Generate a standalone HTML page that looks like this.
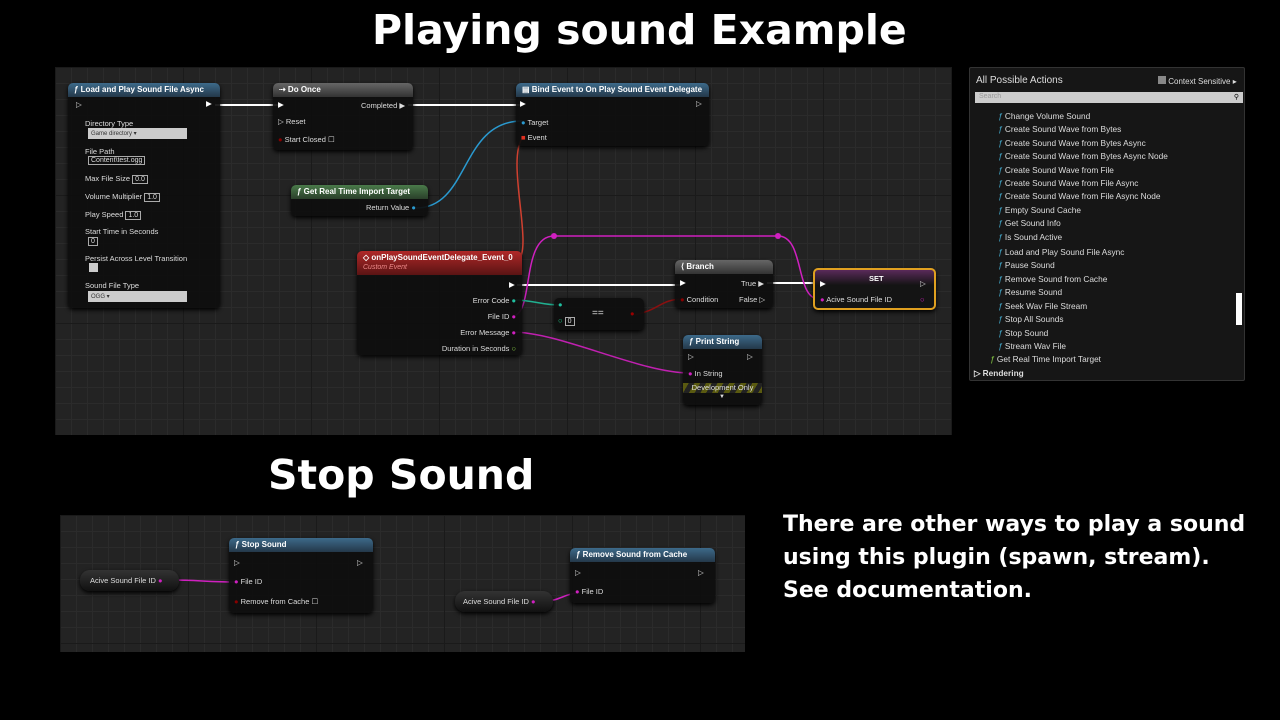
<!DOCTYPE html>
<html><head><meta charset="utf-8"><style>
*{margin:0;padding:0;box-sizing:border-box}
body{width:1280px;height:720px;background:#000;position:relative;overflow:hidden;font-family:"Liberation Sans",sans-serif;color:#ddd}
.t{position:absolute;font-weight:bold;color:#fff;white-space:nowrap;font-family:"DejaVu Sans",sans-serif}
.g{position:absolute;background-color:#232323;background-image:linear-gradient(#1a1a1a 1px,transparent 1px),linear-gradient(90deg,#1a1a1a 1px,transparent 1px),linear-gradient(#2b2b2b 1px,transparent 1px),linear-gradient(90deg,#2b2b2b 1px,transparent 1px);background-size:128px 128px,128px 128px,16px 16px,16px 16px}
.n{position:absolute;background:rgba(14,14,14,.93);border-radius:5px;box-shadow:0 2px 4px #000;font-size:8px;color:#ddd}
.h{height:14px;border-radius:5px 5px 0 0;padding:2px 6px;font-size:8px;font-weight:bold;color:#fff;white-space:nowrap}
.l{position:absolute;font-size:7.5px;white-space:nowrap;color:#ddd}
.s{position:absolute}
.box{display:inline-block;border:1px solid #aaa;padding:0 2px;font-size:7px}
</style></head><body>
<div class="t" style="left:372px;top:6px;font-size:41px">Playing sound Example</div>
<div class="t" style="left:268px;top:451px;font-size:41px">Stop Sound</div>
<div class="t" style="left:783px;top:508px;font-size:22px;line-height:33px">There are other ways to play a sound<br>using this plugin (spawn, stream).<br>See documentation.</div>

<div class="g" style="left:55px;top:67px;width:897px;height:368px"></div>
<div class="g" style="left:60px;top:515px;width:685px;height:137px"></div>

<svg class="s" style="left:0;top:0" width="1280" height="720">
<g fill="none" stroke-width="2">
<path d="M215 105H278" stroke="#fff"/>
<path d="M408 105H521" stroke="#fff"/>
<path d="M517 285H680" stroke="#fff"/>
<path d="M767 283H819" stroke="#fff"/>
<path d="M416 208C470 208 460 121 522 121" stroke="#2a9ad0" stroke-width="1.5"/>
<path d="M517 262C535 250 505 160 523 137" stroke="#d04030" stroke-width="1.5"/>
<path d="M512 316C535 316 520 236 554 236H778C805 236 795 299 819 299" stroke="#d020c0" stroke-width="1.5"/>
<path d="M512 332C560 332 640 373 690 373" stroke="#c020b0" stroke-width="1.5"/>
<path d="M512 300C535 300 540 305 561 305" stroke="#20b090" stroke-width="1.5"/>
<path d="M634 315C660 310 660 299 684 299" stroke="#8a1010" stroke-width="1.5"/>
<path d="M170 580C200 580 205 582 238 582" stroke="#d020c0" stroke-width="1.5"/>
<path d="M545 601C560 601 565 593 580 593" stroke="#d020c0" stroke-width="1.5"/>
</g>
<g fill="#d020c0"><circle cx="554" cy="236" r="3"/><circle cx="778" cy="236" r="3"/></g>
</svg>

<!-- Load and Play -->
<div class="n" style="left:68px;top:83px;width:152px;height:225px">
<div class="h" style="background:linear-gradient(#3d6a8a,#24384a)">ƒ Load and Play Sound File Async</div>
<div class="l" style="left:8px;top:17px">▷</div><div class="l" style="left:138px;top:16px;color:#fff">▶</div>
<div class="l" style="left:17px;top:36px">Directory Type</div>
<div class="l" style="left:20px;top:45px;width:99px;height:11px;background:#ccc;color:#333;font-size:6px;padding:2px 3px">Game directory ▾</div>
<div class="l" style="left:17px;top:64px">File Path</div>
<div class="l" style="left:20px;top:72px"><span class="box">Content\test.ogg</span></div>
<div class="l" style="left:17px;top:91px">Max File Size <span class="box">0.0</span></div>
<div class="l" style="left:17px;top:109px">Volume Multiplier <span class="box">1.0</span></div>
<div class="l" style="left:17px;top:127px">Play Speed <span class="box">1.0</span></div>
<div class="l" style="left:17px;top:144px">Start Time in Seconds</div>
<div class="l" style="left:20px;top:153px"><span class="box">0</span></div>
<div class="l" style="left:17px;top:171px">Persist Across Level Transition</div>
<div class="l" style="left:21px;top:180px;width:9px;height:9px;background:#ccc"></div>
<div class="l" style="left:17px;top:198px">Sound File Type</div>
<div class="l" style="left:20px;top:208px;width:99px;height:11px;background:#ccc;color:#333;font-size:6px;padding:2px 3px">OGG ▾</div>
</div>
<!-- Do Once -->
<div class="n" style="left:273px;top:83px;width:140px;height:67px">
<div class="h" style="background:linear-gradient(#666,#333)">⇢ Do Once</div>
<div class="l" style="left:5px;top:17px;color:#fff">▶</div><div class="l" style="left:88px;top:18px">Completed ▶</div>
<div class="l" style="left:5px;top:34px">▷ Reset</div>
<div class="l" style="left:5px;top:52px"><span style="color:#800">●</span> Start Closed ☐</div>
</div>
<!-- Bind -->
<div class="n" style="left:516px;top:83px;width:193px;height:63px">
<div class="h" style="background:linear-gradient(#3d6a8a,#24384a)">▤ Bind Event to On Play Sound Event Delegate</div>
<div class="l" style="left:4px;top:16px;color:#fff">▶</div><div class="l" style="left:180px;top:16px">▷</div>
<div class="l" style="left:5px;top:35px"><span style="color:#2a9ad0">●</span> Target</div>
<div class="l" style="left:5px;top:50px"><span style="color:#e03020">■</span> Event</div>
</div>
<!-- Get Real Time -->
<div class="n" style="left:291px;top:185px;width:137px;height:31px">
<div class="h" style="background:linear-gradient(#4a7a4a,#2a402a)">ƒ Get Real Time Import Target</div>
<div class="l" style="left:75px;top:18px">Return Value <span style="color:#2a9ad0">●</span></div>
</div>
<!-- Custom Event -->
<div class="n" style="left:357px;top:251px;width:165px;height:104px">
<div style="height:24px;border-radius:5px 5px 0 0;background:linear-gradient(#b02828,#5a1414);padding:2px 6px;font-size:8px;font-weight:bold;color:#fff">◇ onPlaySoundEventDelegate_Event_0<br><span style="font-weight:normal;font-style:italic;color:#e88;font-size:7px">Custom Event</span></div>
<div class="l" style="left:152px;top:29px;color:#fff">▶</div>
<div class="l" style="right:6px;top:45px">Error Code <span style="color:#20c0a0">●</span></div>
<div class="l" style="right:6px;top:61px">File ID <span style="color:#d020c0">●</span></div>
<div class="l" style="right:6px;top:77px">Error Message <span style="color:#d020c0">●</span></div>
<div class="l" style="right:6px;top:93px">Duration in Seconds <span style="color:#8c4">○</span></div>
</div>
<!-- == -->
<div class="n" style="left:554px;top:298px;width:90px;height:32px">
<div class="l" style="left:4px;top:2px;color:#20c0a0">●</div>
<div class="l" style="left:4px;top:18px"><span style="color:#2c8">○</span> <span class="box">0</span></div>
<div class="l" style="left:38px;top:10px;font-size:10px">==</div>
<div class="l" style="left:76px;top:11px;color:#900">●</div>
</div>
<!-- Branch -->
<div class="n" style="left:675px;top:260px;width:98px;height:48px">
<div class="h" style="background:linear-gradient(#666,#333)">⟨ Branch</div>
<div class="l" style="left:5px;top:18px;color:#fff">▶</div><div class="l" style="left:66px;top:19px">True ▶</div>
<div class="l" style="left:5px;top:35px"><span style="color:#800">●</span> Condition</div><div class="l" style="left:64px;top:35px">False ▷</div>
</div>
<!-- SET -->
<div class="n" style="left:813px;top:268px;width:123px;height:42px;border:2px solid #e0a020;background:linear-gradient(#5a2a5a,#141414 40%)">
<div class="l" style="left:54px;top:4px;font-weight:bold;color:#fff">SET</div>
<div class="l" style="left:5px;top:9px;color:#fff">▶</div><div class="l" style="left:105px;top:9px">▷</div>
<div class="l" style="left:5px;top:25px"><span style="color:#d020c0">●</span> Acive Sound File ID</div>
<div class="l" style="left:105px;top:25px;color:#d020c0">○</div>
</div>
<!-- Print String -->
<div class="n" style="left:683px;top:335px;width:79px;height:70px">
<div class="h" style="background:linear-gradient(#3d6a8a,#24384a)">ƒ Print String</div>
<div class="l" style="left:5px;top:17px">▷</div><div class="l" style="left:64px;top:17px">▷</div>
<div class="l" style="left:5px;top:34px"><span style="color:#d020c0">●</span> In String</div>
<div class="l" style="left:0;top:48px;width:79px;height:10px;background:repeating-linear-gradient(120deg,#5a5a10 0 5px,#222 5px 10px);text-align:center">Development Only</div>
<div class="l" style="left:36px;top:59px;font-size:6px">▼</div>
</div>

<!-- Right panel -->
<div class="n" style="left:969px;top:67px;width:276px;height:314px;background:#161616;border:1px solid #333;border-radius:2px">
<div class="l" style="left:6px;top:7px;font-size:10px">All Possible Actions</div>
<div class="l" style="left:188px;top:8px;font-size:8px"><span style="display:inline-block;width:8px;height:8px;background:#888"></span> Context Sensitive ▸</div>
<div class="l" style="left:5px;top:24px;width:268px;height:11px;background:#ccc;color:#999;font-size:7px;padding:1px 4px">Search<span style="float:right;color:#000">⚲</span></div>
<div class="l" style="left:266px;top:225px;width:6px;height:32px;background:#fff"></div>
<div style="position:absolute;left:28px;top:42px;font-size:8.3px;line-height:13.4px;color:#ddd">
<div><i style="color:#4ac">ƒ</i> Change Volume Sound</div>
<div><i style="color:#4ac">ƒ</i> Create Sound Wave from Bytes</div>
<div><i style="color:#4ac">ƒ</i> Create Sound Wave from Bytes Async</div>
<div><i style="color:#4ac">ƒ</i> Create Sound Wave from Bytes Async Node</div>
<div><i style="color:#4ac">ƒ</i> Create Sound Wave from File</div>
<div><i style="color:#4ac">ƒ</i> Create Sound Wave from File Async</div>
<div><i style="color:#4ac">ƒ</i> Create Sound Wave from File Async Node</div>
<div><i style="color:#4ac">ƒ</i> Empty Sound Cache</div>
<div><i style="color:#4ac">ƒ</i> Get Sound Info</div>
<div><i style="color:#4ac">ƒ</i> Is Sound Active</div>
<div style="margin-top:2px"><i style="color:#4ac">ƒ</i> Load and Play Sound File Async</div>
<div><i style="color:#4ac">ƒ</i> Pause Sound</div>
<div><i style="color:#4ac">ƒ</i> Remove Sound from Cache</div>
<div><i style="color:#4ac">ƒ</i> Resume Sound</div>
<div><i style="color:#4ac">ƒ</i> Seek Wav File Stream</div>
<div><i style="color:#4ac">ƒ</i> Stop All Sounds</div>
<div><i style="color:#4ac">ƒ</i> Stop Sound</div>
<div><i style="color:#4ac">ƒ</i> Stream Wav File</div>
<div style="margin-left:-8px"><i style="color:#8c4">ƒ</i> Get Real Time Import Target</div>
<div style="margin-left:-24px;font-weight:bold">▷ Rendering</div>
</div>
</div>

<!-- Stop sound nodes -->
<div class="n" style="left:80px;top:570px;width:99px;height:21px;border-radius:10px;background:linear-gradient(#333,#111)">
<div class="l" style="left:10px;top:6px">Acive Sound File ID <span style="color:#d020c0">●</span></div></div>
<div class="n" style="left:229px;top:538px;width:144px;height:75px">
<div class="h" style="background:linear-gradient(#3d6a8a,#24384a)">ƒ Stop Sound</div>
<div class="l" style="left:5px;top:20px">▷</div><div class="l" style="left:128px;top:20px">▷</div>
<div class="l" style="left:5px;top:39px"><span style="color:#d020c0">●</span> File ID</div>
<div class="l" style="left:5px;top:59px"><span style="color:#800">●</span> Remove from Cache ☐</div>
</div>
<div class="n" style="left:455px;top:591px;width:98px;height:21px;border-radius:10px;background:linear-gradient(#333,#111)">
<div class="l" style="left:8px;top:6px">Acive Sound File ID <span style="color:#d020c0">●</span></div></div>
<div class="n" style="left:570px;top:548px;width:145px;height:55px">
<div class="h" style="background:linear-gradient(#3d6a8a,#24384a)">ƒ Remove Sound from Cache</div>
<div class="l" style="left:5px;top:20px">▷</div><div class="l" style="left:128px;top:20px">▷</div>
<div class="l" style="left:5px;top:39px"><span style="color:#d020c0">●</span> File ID</div>
</div>
</body></html>
